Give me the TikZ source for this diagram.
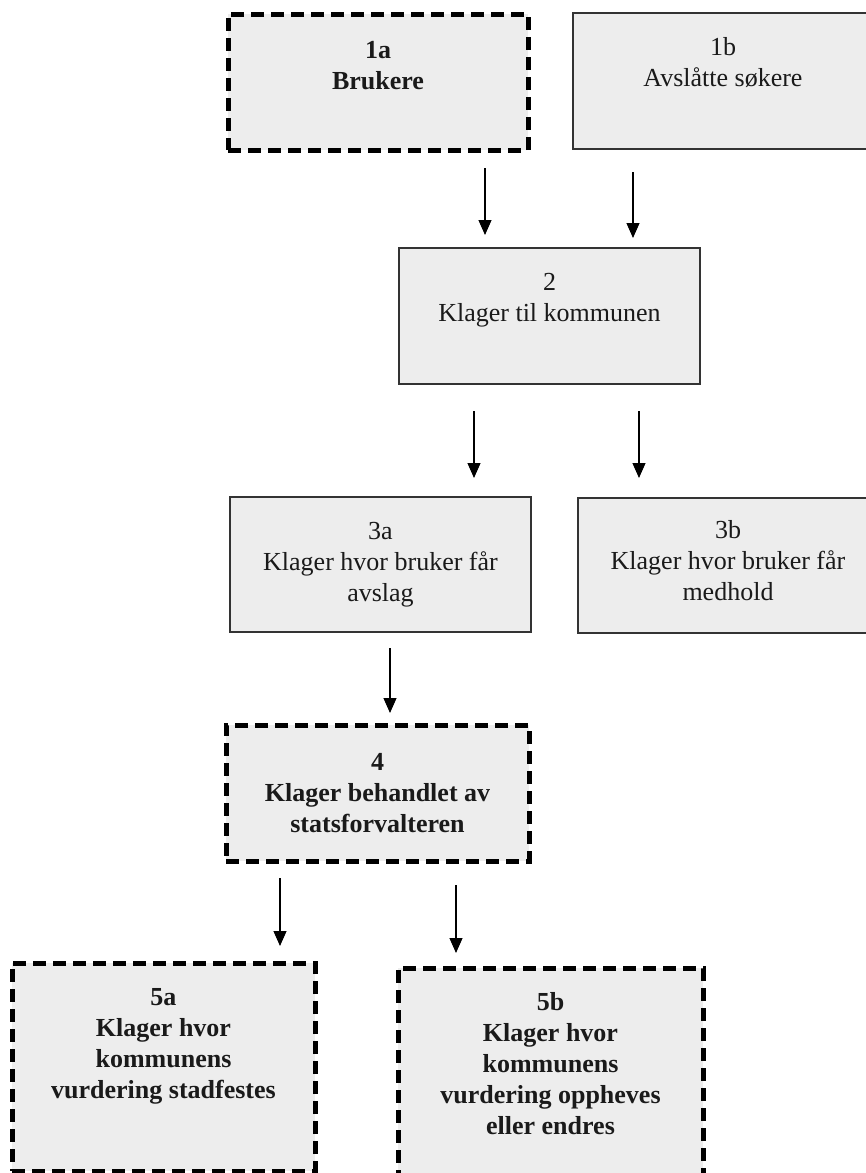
\documentclass[tikz,border=0pt]{standalone}
\usepackage{fontspec}
\setmainfont{Liberation Serif}
\usetikzlibrary{arrows.meta}
\definecolor{boxfill}{HTML}{EDEDED}
\definecolor{txtcol}{HTML}{1A1A1A}
\newcommand\boxtxt[4]{\parbox[c][#1][t]{#2}{\centering\rule{0pt}{#3}#4}}
\tikzset{
  basebox/.style={inner sep=0pt, outer sep=0pt, fill=boxfill, text=txtcol,
    font=\fontsize{26}{31}\selectfont},
  thinbox/.style={basebox, draw=black!80, line width=1.3pt},
  dashbox/.style={basebox, draw=black, line width=5pt, dash pattern=on 13pt off 7pt,
    font=\fontsize{26}{31}\selectfont\bfseries},
  arr/.style={draw=black, line width=1.1pt, -{Triangle[width=13pt,length=15pt]}}
}
\begin{document}
\begin{tikzpicture}[x=1pt,y=-1pt]
\useasboundingbox (0,0) rectangle (866,1173);
% boxes
\node[dashbox] (b1a) at (378,82) {\boxtxt{136pt}{300pt}{44pt}{1a\\Brukere}};
\node[thinbox] (b1b) at (723,81) {\boxtxt{136pt}{300pt}{42pt}{1b\\Avslåtte søkere}};
\node[thinbox] (b2) at (549.5,316) {\boxtxt{136pt}{301pt}{42pt}{2\\Klager til kommunen}};
\node[thinbox] (b3a) at (380.5,564.5) {\boxtxt{135pt}{301pt}{42pt}{3a\\Klager hvor bruker får\\avslag}};
\node[thinbox] (b3b) at (728,565.5) {\boxtxt{135pt}{300pt}{40pt}{3b\\Klager hvor bruker får\\medhold}};
\node[dashbox] (b4) at (377.5,793) {\boxtxt{136pt}{303pt}{45pt}{4\\Klager behandlet av\\statsforvalteren}};
\node[dashbox] (b5a) at (163.5,1067) {\boxtxt{208pt}{303pt}{42pt}{5a\\Klager hvor\\kommunens\\vurdering stadfestes}};
\node[dashbox] (b5b) at (550.5,1072) {\boxtxt{208pt}{305pt}{42pt}{5b\\Klager hvor\\kommunens\\vurdering oppheves\\eller endres}};
% arrow end points
\coordinate (s1) at (485,168); \coordinate (e1) at (485,235);
\coordinate (s2) at (633,172); \coordinate (e2) at (633,238);
\coordinate (s3) at (474,411); \coordinate (e3) at (474,478);
\coordinate (s4) at (639,411); \coordinate (e4) at (639,478);
\coordinate (s5) at (390,648); \coordinate (e5) at (390,713);
\coordinate (s6) at (280,878); \coordinate (e6) at (280,946);
\coordinate (s7) at (456,885); \coordinate (e7) at (456,953);
\draw[arr] (s1) -- (e1);
\draw[arr] (s2) -- (e2);
\draw[arr] (s3) -- (e3);
\draw[arr] (s4) -- (e4);
\draw[arr] (s5) -- (e5);
\draw[arr] (s6) -- (e6);
\draw[arr] (s7) -- (e7);
\end{tikzpicture}
\end{document}
